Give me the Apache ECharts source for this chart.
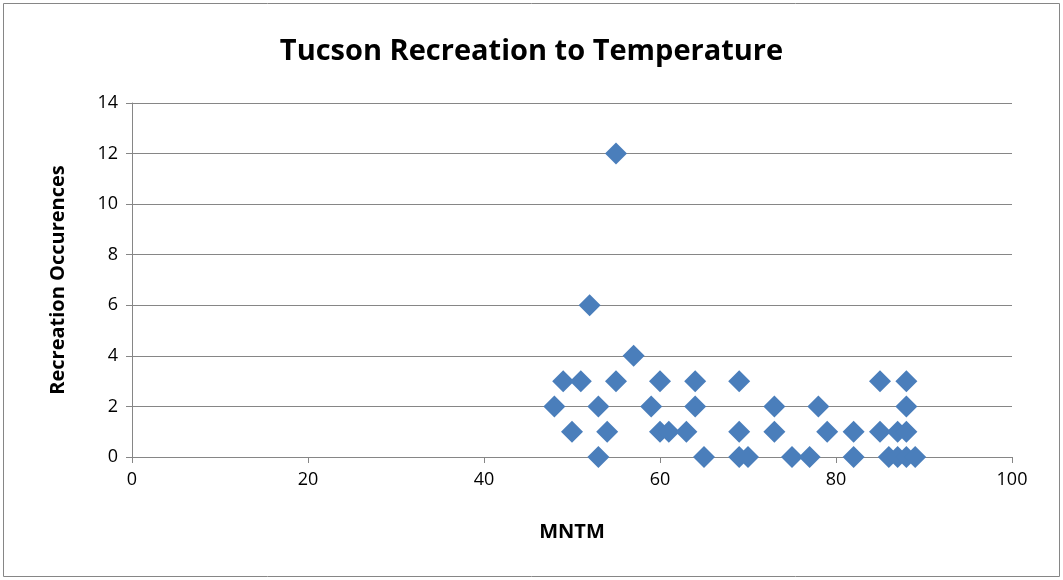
<!DOCTYPE html>
<html>
<head>
<meta charset="utf-8">
<script src="https://cdn.jsdelivr.net/npm/echarts@6/dist/echarts.min.js"></script>
<style>
  html, body { margin: 0; padding: 0; background: #fff; }
  #chart { width: 1063px; height: 580px; }
</style>
</head>
<body>
<div id="chart"></div>
<script>
// mean temperature (MNTM) and recreation occurences
const mntm = [55, 52, 57,
  49, 51, 55, 60, 64, 69, 85, 88,
  48, 53, 59, 64, 73, 78, 88,
  50, 54, 60, 61, 63, 69, 73, 79, 82, 85, 87, 88,
  53, 65, 69, 70, 75, 77, 82, 86, 87, 88, 89];
const occurences = [12, 6, 4,
  3, 3, 3, 3, 3, 3, 3, 3,
  2, 2, 2, 2, 2, 2, 2,
  1, 1, 1, 1, 1, 1, 1, 1, 1, 1, 1, 1,
  0, 0, 0, 0, 0, 0, 0, 0, 0, 0, 0];

const points = mntm.map((x, i) => [x, occurences[i]]);
const font = "'Open Sans', 'Liberation Sans', sans-serif";

let myChart = echarts.init(document.getElementById("chart"));
myChart.setOption({
  animation: false,
  backgroundColor: "#fff",
  title: {
    text: "Tucson Recreation to Temperature",
    left: "center",
    top: 32,
    textStyle: { fontFamily: font, fontSize: 29, fontWeight: "bold", color: "#000" }
  },
  grid: { left: 132, right: 51, top: 103, bottom: 123 },
  xAxis: {
    type: "value",
    min: 0,
    max: 100,
    interval: 20,
    name: "MNTM",
    nameLocation: "middle",
    nameGap: 65,
    nameTextStyle: { fontFamily: font, fontSize: 20, fontWeight: "bold", color: "#000" },
    axisLine: { lineStyle: { color: "#868686" } },
    axisTick: { show: true, length: 6, lineStyle: { color: "#868686" } },
    axisLabel: { fontFamily: font, fontSize: 18, color: "#000", margin: 14 },
    splitLine: { show: false }
  },
  yAxis: {
    type: "value",
    min: 0,
    max: 14,
    interval: 2,
    name: "Recreation Occurences",
    nameLocation: "middle",
    nameGap: 64,
    nameTextStyle: { fontFamily: font, fontSize: 20, fontWeight: "bold", color: "#000" },
    axisLine: { show: true, lineStyle: { color: "#868686" } },
    axisTick: { show: true, length: 6, lineStyle: { color: "#868686" } },
    axisLabel: { fontFamily: font, fontSize: 18, color: "#000", margin: 14 },
    splitLine: { lineStyle: { color: "#868686", width: 1 } }
  },
  series: [{
    type: "scatter",
    symbol: "diamond",
    symbolSize: 22,
    itemStyle: { color: "#4a7ebb", opacity: 1 },
    data: points
  }],
  graphic: [{
    type: "rect",
    shape: { x: 3.5, y: 3.5, width: 1056, height: 573 },
    style: { fill: "none", stroke: "#868686", lineWidth: 1 },
    silent: true
  }]
});
</script>
</body>
</html>
